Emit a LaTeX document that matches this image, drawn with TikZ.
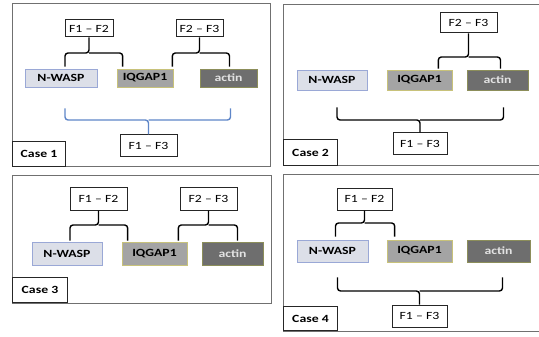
\documentclass[tikz,border=0pt]{standalone}
\usepackage{fontspec}
\setmainfont{Carlito}[FakeStretch=1.25]
\usepackage{xcolor}
\usepackage{tikz}
\usetikzlibrary{calc}

\definecolor{waspfill}{HTML}{DCDFE8}
\definecolor{waspline}{HTML}{9AA8D6}
\definecolor{iqfill}{HTML}{A4A4A4}
\definecolor{iqline}{HTML}{C8C27A}
\definecolor{actfill}{HTML}{6E6E6E}
\definecolor{actline}{HTML}{8C8E5A}
\definecolor{actext}{HTML}{E2E2E2}
\definecolor{frameline}{HTML}{707070}
\definecolor{bluebrace}{HTML}{5F86C8}

\tikzset{
	frag/.style={draw=black!85, line width=1pt, fill=white, inner sep=1pt,
		font=\fontsize{11}{13}\selectfont},
	casebox/.style={draw=black!85, line width=1pt, fill=white, inner sep=1pt,
		anchor=south west, font=\fontsize{11}{13}\selectfont\bfseries},
	nwasp/.style={draw=waspline, line width=0.7pt, fill=waspfill, inner sep=1pt,
		font=\fontsize{11}{13}\selectfont\bfseries},
	iqgap/.style={draw=iqline, line width=0.7pt, fill=iqfill, inner sep=1pt,
		font=\fontsize{11}{13}\selectfont\bfseries},
	actin/.style={draw=actline, line width=0.7pt, fill=actfill, text=actext, inner sep=1pt,
		font=\fontsize{11}{13}\selectfont\bfseries},
	brace/.style={line width=1.4pt, rounded corners=3pt},
	panel/.style={draw=frameline, line width=1pt}
}

\begin{document}
\begin{tikzpicture}[x=1pt,y=-1pt]
	\clip (0,0) rectangle (539,337);
	\fill[white] (0,0) rectangle (539,337);
	% panels
	\draw[panel] (12,4) rectangle (270,167);
	\draw[panel] (283,5) rectangle (542,166);
	\draw[panel] (12,175) rectangle (271,303);
	\draw[panel] (283,174) rectangle (542,331);

	% Case 1
	\node[frag, minimum width=48pt, minimum height=17pt] (f12A) at (89,28.5) {F1 – F2};
	\node[frag, minimum width=47pt, minimum height=17pt] (f23A) at (199.5,28.5) {F2 – F3};
	\node[nwasp, minimum width=72pt, minimum height=18pt] (nwaspA) at (61,78) {N-WASP};
	\node[iqgap, minimum width=56pt, minimum height=18pt] (iqgapA) at (145,78) {IQGAP1};
	\node[actin, minimum width=57pt, minimum height=18pt] (actinA) at (228.5,78) {actin};
	\node[frag, minimum width=57pt, minimum height=22pt] (f13A) at (148.5,146) {F1 – F3};
	\node[casebox, minimum width=53pt, minimum height=25pt] (caseA) at (12,167) {Case 1};
	\draw[brace] ([xshift=4pt,yshift=2pt]nwaspA.north) |- (f12A.south |- 0,53) -- (f12A.south);
	\draw[brace] ([xshift=6pt,yshift=2pt]iqgapA.north west) |- (f12A.south |- 0,53);
	\draw[brace] ([xshift=-1pt,yshift=2pt]iqgapA.north east) |- (f23A.south |- 0,53) -- (f23A.south);
	\draw[brace] ([xshift=1pt,yshift=2pt]actinA.north) |- (f23A.south |- 0,53);
	\draw[brace, bluebrace] ([xshift=4pt,yshift=-21pt]nwaspA.south) |- (f13A.north |- 0,120) -- (f13A.north);
	\draw[brace, bluebrace] ([xshift=2pt,yshift=-21pt]actinA.south) |- (f13A.north |- 0,120);

	% Case 2
	\node[frag, minimum width=57pt, minimum height=20pt] (f23B) at (468.5,23) {F2 – F3};
	\node[nwasp, minimum width=70pt, minimum height=20pt] (nwaspB) at (332,80) {N-WASP};
	\node[iqgap, minimum width=65pt, minimum height=20pt] (iqgapB) at (419.5,80) {IQGAP1};
	\node[actin, minimum width=61pt, minimum height=20pt] (actinB) at (497.5,80) {actin};
	\node[frag, minimum width=54pt, minimum height=22pt] (f13B) at (420,144) {F1 – F3};
	\node[casebox, minimum width=54pt, minimum height=26pt] (caseB) at (283,166) {Case 2};
	\draw[brace] ([xshift=-14pt,yshift=1pt]iqgapB.north east) |- (f23B.south |- 0,57) -- (f23B.south);
	\draw[brace] ([xshift=3pt,yshift=1pt]actinB.north) |- (f23B.south |- 0,57);
	\draw[brace] ([xshift=5pt,yshift=-17pt]nwaspB.south) |- (f13B.north |- 0,120) -- (f13B.north);
	\draw[brace] ([xshift=6pt,yshift=-17pt]actinB.south) |- (f13B.north |- 0,120);

	% Case 3
	\node[frag, minimum width=57pt, minimum height=23pt] (f12C) at (98.5,198.5) {F1 – F2};
	\node[frag, minimum width=57pt, minimum height=23pt] (f23C) at (208.5,198.5) {F2 – F3};
	\node[nwasp, minimum width=70pt, minimum height=23pt] (nwaspC) at (67,253.5) {N-WASP};
	\node[iqgap, minimum width=65pt, minimum height=23pt] (iqgapC) at (154.5,253.5) {IQGAP1};
	\node[actin, minimum width=61pt, minimum height=23pt] (actinC) at (232.5,253.5) {actin};
	\node[casebox, minimum width=55pt, minimum height=25pt] (caseC) at (12,303) {Case 3};
	\draw[brace] ([xshift=3pt,yshift=1pt]nwaspC.north) |- (f12C.south |- 0,225) -- (f12C.south);
	\draw[brace] ([xshift=6pt,yshift=1pt]iqgapC.north west) |- (f12C.south |- 0,225);
	\draw[brace] ([xshift=-9pt,yshift=1pt]iqgapC.north east) |- (f23C.south |- 0,225) -- (f23C.south);
	\draw[brace] ([xshift=5pt,yshift=1pt]actinC.north) |- (f23C.south |- 0,225);

	% Case 4
	\node[frag, minimum width=55pt, minimum height=22pt] (f12D) at (364.5,199) {F1 – F2};
	\node[nwasp, minimum width=71pt, minimum height=22pt] (nwaspD) at (332.5,251) {N-WASP};
	\node[iqgap, minimum width=65pt, minimum height=22pt] (iqgapD) at (419.5,251) {IQGAP1};
	\node[actin, minimum width=63pt, minimum height=22pt] (actinD) at (498.5,251) {actin};
	\node[frag, minimum width=55pt, minimum height=22pt] (f13D) at (419.5,316) {F1 – F3};
	\node[casebox, minimum width=54pt, minimum height=24pt] (caseD) at (283,331) {Case 4};
	\draw[brace] ([xshift=3pt,yshift=3pt]nwaspD.north) |- (f12D.south |- 0,223) -- (f12D.south);
	\draw[brace] ([xshift=8pt,yshift=3pt]iqgapD.north west) |- (f12D.south |- 0,223);
	\draw[brace] ([xshift=5pt,yshift=-15pt]nwaspD.south) |- (f13D.north |- 0,291) -- (f13D.north);
	\draw[brace] ([xshift=4pt,yshift=-15pt]actinD.south) |- (f13D.north |- 0,291);
\end{tikzpicture}
\end{document}
